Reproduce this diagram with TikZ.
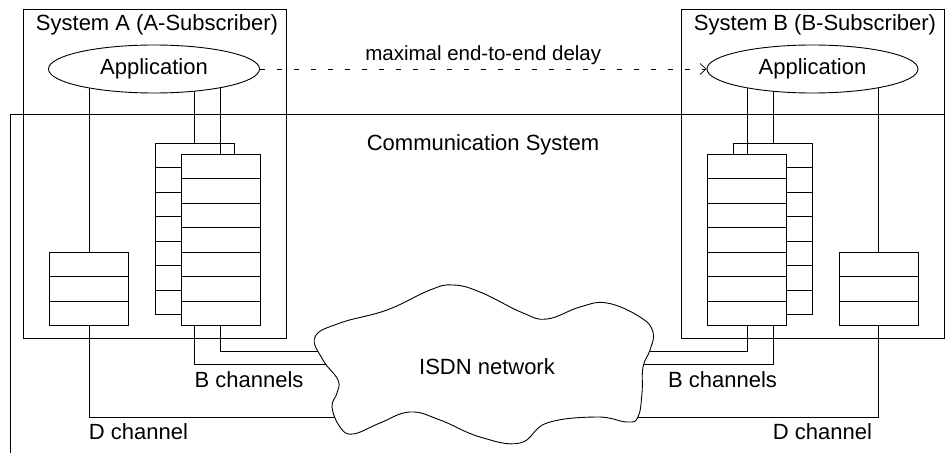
\documentclass[tikz,border=0pt]{standalone}
\usepackage{fontspec}
\setmainfont{Liberation Sans}
\usetikzlibrary{positioning,shapes.geometric,arrows.meta,backgrounds}
\tikzset{sysbox/.style = {draw, minimum width=263pt, minimum height=329pt, inner sep=0pt}}
\tikzset{app/.style = {draw, ellipse, fill=white, minimum width=211pt, minimum height=48pt, inner sep=0pt}}
\tikzset{cell/.style = {draw, minimum width=79pt, minimum height=24.5pt, inner sep=0pt}}
\tikzset{front/.style = {cell, fill=white}}
\tikzset{delay/.style = {->, line width=0.7pt, dash pattern=on 5pt off 12pt}}

\begin{document}
\begin{tikzpicture}[>={Straight Barb[length=6pt,width=11pt]}, x=1pt, y=-1pt, line width=0.9pt,
                    font=\fontsize{22}{26}\selectfont]
  \useasboundingbox (0,0) rectangle (945,454);

  % subscriber systems
  \node [sysbox] (sysA) at (155,173.5) {};
  \node [sysbox] (sysB) at (812.5,173.5) {};
  \node (titleA) at (157,25) {System A (A-Subscriber)};
  \node (titleB) at (815,25) {System B (B-Subscriber)};
  \node [app] (appA) at (154,69) {Application};
  \node [app] (appB) at (812.5,69) {Application};

  % communication system
  \draw (945,114) -- (10,114) -- (10,453);
  \node (comm) at (483,145) {Communication System};

  % queues
  \foreach \i in {1,...,7} {
    \node [cell] (bA\i) at (194.5, 130.75+24.5*\i) {};
    \node [cell] (bB\i) at (773, 130.75+24.5*\i) {};
  }
  \foreach \i in {1,...,7} {
    \node [front] (fA\i) at (220.5, 141.75+24.5*\i) {};
    \node [front] (fB\i) at (747, 141.75+24.5*\i) {};
  }
  \foreach \i in {1,2,3} {
    \node [front] (dA\i) at (89, 239.75+24.5*\i) {};
    \node [front] (dB\i) at (878.5, 239.75+24.5*\i) {};
  }

  % ends inside the cloud
  \coordinate (cbA1) at (345,351);
  \coordinate (cbA2) at (345,364);
  \coordinate (cdA) at (345,417);
  \coordinate (cbB1) at (625,351);
  \coordinate (cbB2) at (625,364);
  \coordinate (cdB) at (628,417);

  \begin{scope}[on background layer]
    \draw (dA1.north |- appA.center) -- (dA1.north);
    \draw (bA1.north |- appA.center) -- (bA1.north);
    \draw (fA1.north |- appA.center) -- (fA1.north);
    \draw (dB1.north |- appB.center) -- (dB1.north);
    \draw (bB1.north |- appB.center) -- (bB1.north);
    \draw (fB1.north |- appB.center) -- (fB1.north);
    \draw (fA7.south) |- (cbA1);
    \draw (fA7.south -| bA1.north) |- (cbA2);
    \draw (dA3.south) |- (cdA);
    \draw (fB7.south) |- (cbB1);
    \draw (fB7.south -| bB1.north) |- (cbB2);
    \draw (dB3.south) |- (cdB);
  \end{scope}

  % ISDN network
  \draw [fill=white] plot [smooth cycle, tension=0.7] coordinates {
    (315,337) (340,323) (387,310) (430,290) (453,285) (480,292) (523,313)
    (547,319) (580,307) (607,303) (640,317) (653,332) (650,350) (643,367)
    (642,393) (638,417) (627,422) (597,417) (547,423) (520,443) (480,437)
    (440,420) (410,412) (380,423) (353,434) (340,427) (332,407) (337,393)
    (338,380) (323,360)};
  \node (isdn) at (487,367) {ISDN network};

  \node (bchA) at (249,380) {B channels};
  \node (bchB) at (722.5,380) {B channels};
  \node (dchA) at (138.5,431.5) {D channel};
  \node (dchB) at (822.5,431.5) {D channel};

  \draw [delay] (appA.east) -- node [above=1pt, font=\fontsize{20.5}{24}\selectfont] {maximal end-to-end delay} (appB.west);
\end{tikzpicture}
\end{document}
